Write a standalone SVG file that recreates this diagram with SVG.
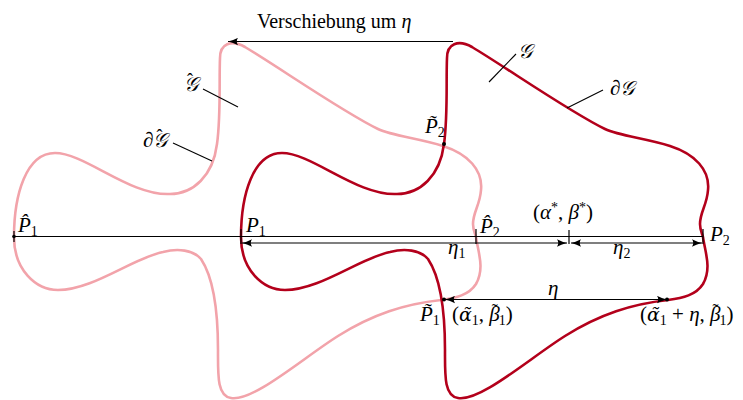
<svg xmlns="http://www.w3.org/2000/svg" xmlns:xlink="http://www.w3.org/1999/xlink" width="743" height="400" viewBox="0 0 743 400">
<style>
.curve{fill:none;stroke-width:2.6;stroke-linejoin:round}
.red{stroke:#b3001b}
.pink{stroke:#f2a3aa}
.ln{stroke:#000;stroke-width:1.2;fill:none}
.tk{stroke:#000;stroke-width:1.2}
.lead{stroke:#000;stroke-width:1.1}
text{font-family:"Liberation Serif","DejaVu Serif",serif;font-size:21px;fill:#000}
.m{font-style:italic}
.s{font-size:14px;font-style:normal}
.ac{font-style:normal;font-size:18px}
.gm{font-family:"DejaVu Serif",serif;font-style:italic;font-size:19px}
.g{font-family:"DejaVu Serif","DejaVu Sans","Noto Sans",serif;font-style:italic;font-size:20px}
</style>
<defs>
<marker id="ah" viewBox="0 0 10 8" refX="10" refY="4" markerWidth="10" markerHeight="8" orient="auto-start-reverse" markerUnits="userSpaceOnUse">
<path d="M0,0.3 Q5,3 10,4 Q5,5 0,7.7 Q2.5,4 0,0.3 Z" fill="#000"/>
</marker>
<path id="shape" d="M241,237 C241,195 253,153 282,153 C312,153 357,196 397,194 C420,194 440,176 444,144 C448,115 446,80 447,58 C447,44 458,39 472,47 C510,70 570,112 605,129 C620,136 645,138 670,146 C695,154 710,170 708,190 C707,205 700,212 700,224 C700,230 702,233 703,237 C705,252 712,268 703,284 C696,295 683,298 668,300 C632,304 600,314 565,336 C530,358 480,402 458,398 C444,396 445,375 445,350 C445,315 442,280 428,259 C420,250 405,248 390,252 C360,258 320,290 285,290 C263,290 241,270 241,237 Z"/>
</defs>

<g id="G-hat">
<use xlink:href="#shape" href="#shape" class="curve pink" transform="translate(-227,0)"/>
</g>
<g id="G">
<use xlink:href="#shape" href="#shape" class="curve red"/>
</g>

<g id="connectors">
<line class="ln" x1="453" y1="41.5" x2="228" y2="41.5" marker-end="url(#ah)"/>
<line class="ln" x1="14" y1="236.5" x2="703" y2="236.5"/>
<line class="ln" x1="242" y1="243" x2="567" y2="243" marker-start="url(#ah)" marker-end="url(#ah)"/>
<line class="ln" x1="571" y1="243" x2="702" y2="243" marker-start="url(#ah)" marker-end="url(#ah)"/>
<line class="ln" x1="445" y1="299.5" x2="667" y2="299.5" marker-start="url(#ah)" marker-end="url(#ah)"/>
<line class="tk" x1="14" y1="231" x2="14" y2="242"/>
<line class="tk" x1="241" y1="229" x2="241" y2="244"/>
<line class="tk" x1="476" y1="229" x2="476" y2="244"/>
<line class="tk" x1="569" y1="230" x2="569" y2="244"/>
<line class="tk" x1="703" y1="229" x2="703" y2="244"/>
<line class="lead" x1="203" y1="89" x2="238" y2="107"/>
<line class="lead" x1="173" y1="143" x2="212" y2="161"/>
<line class="lead" x1="489" y1="82" x2="516" y2="54"/>
<line class="lead" x1="567" y1="108" x2="603" y2="90"/>
<circle cx="14" cy="236.5" r="1.8"/>
<circle cx="444" cy="144" r="2"/>
<circle cx="444" cy="299.5" r="2"/>
<circle cx="667" cy="299.5" r="2"/>
</g>

<g id="labels">
<text x="257" y="28" style="font-size:20px">Verschiebung um <tspan class="m">η</tspan></text>
<text x="184" y="91"><tspan class="g">𝒢</tspan><tspan class="ac" dx="-11" dy="-5">ˆ</tspan></text>
<text x="143" y="147"><tspan class="m">∂</tspan><tspan class="g">𝒢</tspan><tspan class="ac" dx="-11" dy="-5">ˆ</tspan></text>
<text x="518" y="58" class="g">𝒢</text>
<text x="610" y="95" class="m">∂<tspan class="g">𝒢</tspan></text>
<text x="425" y="133" class="m">P̃<tspan class="s" dy="4">2</tspan></text>
<text x="18" y="232" class="m">P̂<tspan class="s" dy="4">1</tspan></text>
<text x="246" y="232" class="m">P<tspan class="s" dy="4">1</tspan></text>
<text x="480" y="233" class="m">P̂<tspan class="s" dy="4">2</tspan></text>
<text x="533" y="219">(<tspan class="m">α</tspan><tspan class="s" dy="-7">*</tspan><tspan dy="7">, </tspan><tspan class="m">β</tspan><tspan class="s" dy="-7">*</tspan><tspan dy="7">)</tspan></text>
<text x="710" y="241" class="m">P<tspan class="s" dy="4">2</tspan></text>
<text x="448" y="254" class="m">η<tspan class="s" dy="4">1</tspan></text>
<text x="613" y="254" class="m">η<tspan class="s" dy="4">2</tspan></text>
<text x="548" y="295" class="m">η</text>
<text x="420" y="321" class="m">P̃<tspan class="s" dy="4">1</tspan></text>
<text x="452" y="321">(<tspan class="gm">α̃</tspan><tspan class="s" dy="4">1</tspan><tspan dy="-4">, </tspan><tspan class="m">β</tspan><tspan class="ac" dx="-8" dy="-4">˜</tspan><tspan class="s" dx="1" dy="8">1</tspan><tspan dy="-4">)</tspan></text>
<text x="640" y="321">(<tspan class="gm">α̃</tspan><tspan class="s" dy="4">1</tspan><tspan dy="-4"> + </tspan><tspan class="m">η</tspan>, <tspan class="m">β</tspan><tspan class="ac" dx="-8" dy="-4">˜</tspan><tspan class="s" dx="1" dy="8">1</tspan><tspan dy="-4">)</tspan></text>
</g>
</svg>
